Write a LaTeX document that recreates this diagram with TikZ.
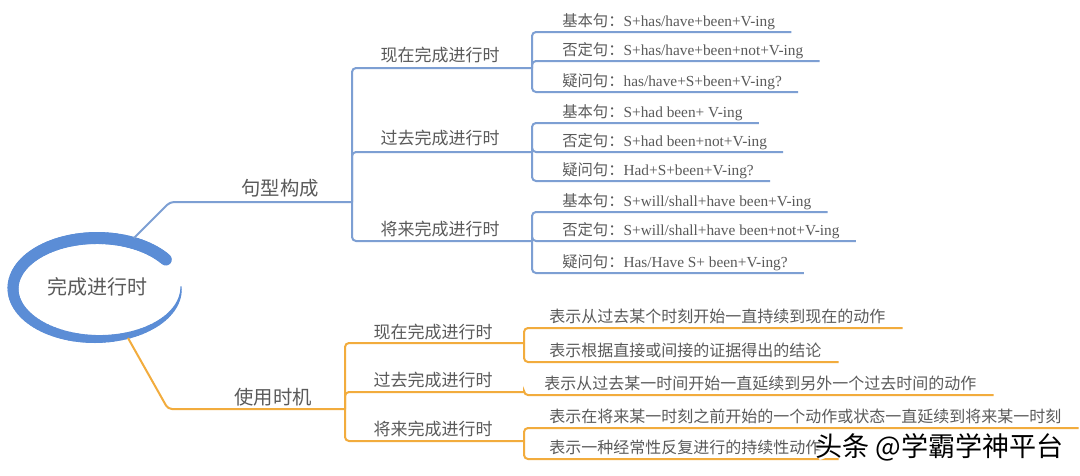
\documentclass[tikz,border=0pt]{standalone}
\usepackage{fontspec}
\setmainfont{Liberation Serif}
\newfontfamily\cjk{Noto Sans CJK SC}
\newcommand\zhs[1]{{\cjk #1}}
\usetikzlibrary{calc}
\definecolor{bline}{HTML}{7D9FD3}
\definecolor{ering}{HTML}{5B8DD6}
\definecolor{oline}{HTML}{F2AC3D}
\definecolor{txt}{HTML}{5A5A5A}
\begin{document}
\begin{tikzpicture}[x=0.75pt,y=-0.75pt,
  bl/.style={draw=bline,line width=1.5pt,rounded corners=3pt},
  ol/.style={draw=oline,line width=1.5pt,rounded corners=3pt},
  lab0/.style={text=txt,font=\cjk\fontsize{15pt}{17pt}\selectfont,inner sep=0pt},
  lab1/.style={text=txt,font=\cjk\fontsize{14.5pt}{16pt}\selectfont,inner sep=0pt},
  lab2/.style={text=txt,font=\cjk\fontsize{12.75pt}{14pt}\selectfont,inner sep=0pt},
  leafb/.style={text=txt,font=\fontsize{11.5pt}{13pt}\selectfont,inner sep=0pt,anchor=base west,yshift=4.5pt},
  leafo/.style={text=txt,font=\cjk\fontsize{12pt}{14pt}\selectfont,inner sep=0pt,anchor=base west,yshift=4.5pt},
  wmark/.style={font=\cjk\fontsize{20.3pt}{22pt}\selectfont,inner sep=0pt,anchor=west},
]
\useasboundingbox (0,0) rectangle (1080,475);
\fill[white] (0,0) rectangle (1080,475);

% central brush ellipse
\foreach \t in {35,38,...,359}{
  \pgfmathsetmacro\s{(\t-35)/327}
  \pgfmathsetmacro\w{(0.8+11.2*(1-\s*\s*\s))*0.75}
  \draw[ering,line width=\w pt,line cap=round]
    ({97+84*cos(\t)},{288.5-50.5*sin(\t)}) -- ({97+84*cos(\t+3)},{288.5-50.5*sin(\t+3)});
}
\node[lab0] (c) at (97,287) {完成进行时};

% coordinates
\coordinate (E1) at (134,238);
\coordinate (K1) at (170,202);
\coordinate (B)  at (352,202);
\coordinate (P1) at (532,68);
\coordinate (P2) at (532,152);
\coordinate (P3) at (532,241);
\coordinate (E2) at (128,338);
\coordinate (K2) at (168,409);
\coordinate (O)  at (345,409);
\coordinate (Q1) at (524,343);
\coordinate (Q2) at (524,392);
\coordinate (Q3) at (524,441);

% blue branch
\draw[bl] (E1) -- (K1) -- (B);
\node[lab1] (g) at (280,188) {句型构成};
\draw[bl] (B) |- (P1);
\draw[bl] (B) |- (P2);
\draw[bl] (B) |- (P3);
\node[lab2] (g1) at (440,55) {现在完成进行时};
\node[lab2] (g2) at (440,138) {过去完成进行时};
\node[lab2] (g3) at (440,229) {将来完成进行时};

\node[leafb] (a1) at (562,32) {\zhs{基本句：}S+has/have+been+V-ing};
\node[leafb] (a2) at (562,61) {\zhs{否定句：}S+has/have+been+not+V-ing};
\node[leafb] (a3) at (562,92) {\zhs{疑问句：}has/have+S+been+V-ing?};
\node[leafb] (b1) at (562,123) {\zhs{基本句：}S+had been+ V-ing};
\node[leafb] (b2) at (562,152) {\zhs{否定句：}S+had been+not+V-ing};
\node[leafb] (b3) at (562,181) {\zhs{疑问句：}Had+S+been+V-ing?};
\node[leafb] (d1) at (562,212) {\zhs{基本句：}S+will/shall+have been+V-ing};
\node[leafb] (d2) at (562,241) {\zhs{否定句：}S+will/shall+have been+not+V-ing};
\node[leafb] (d3) at (562,273) {\zhs{疑问句：}Has/Have S+ been+V-ing?};
\foreach \n in {a1,a2,a3}{\draw[bl] (P1) |- ($(\n.base east)+(16,6)$);}
\foreach \n in {b1,b2,b3}{\draw[bl] (P2) |- ($(\n.base east)+(16,6)$);}
\foreach \n in {d1,d2,d3}{\draw[bl] (P3) |- ($(\n.base east)+(16,6)$);}

% orange branch
\draw[ol] (E2) -- (K2) -- (O);
\node[lab1] (u) at (273,397) {使用时机};
\draw[ol] (O) |- (Q1);
\draw[ol] (O) |- (Q2);
\draw[ol] (O) |- (Q3);
\node[lab2] (u1) at (433,332) {现在完成进行时};
\node[lab2] (u2) at (433,380) {过去完成进行时};
\node[lab2] (u3) at (433,429) {将来完成进行时};

\node[leafo] (x1) at (549,328) {表示从过去某个时刻开始一直持续到现在的动作};
\node[leafo] (x2) at (549,362) {表示根据直接或间接的证据得出的结论};
\node[leafo] (y1) at (544,395) {表示从过去某一时间开始一直延续到另外一个过去时间的动作};
\node[leafo] (z1) at (549,428) {表示在将来某一时刻之前开始的一个动作或状态一直延续到将来某一时刻};
\node[leafo] (z2) at (549,459) {表示一种经常性反复进行的持续性动作};
\foreach \n in {x1,x2}{\draw[ol] (Q1) |- ($(\n.base east)+(17,6)$);}
\draw[ol] (Q2) |- ($(y1.base east)+(17,6)$);
\foreach \n in {z1,z2}{\draw[ol] (Q3) |- ($(\n.base east)+(17,6)$);}

% watermark
\node[wmark,text=white] (wms) at (817,449) {头条 @学霸学神平台};
\node[wmark,text=black] (wm) at (815,447) {头条 @学霸学神平台};
\end{tikzpicture}
\end{document}
